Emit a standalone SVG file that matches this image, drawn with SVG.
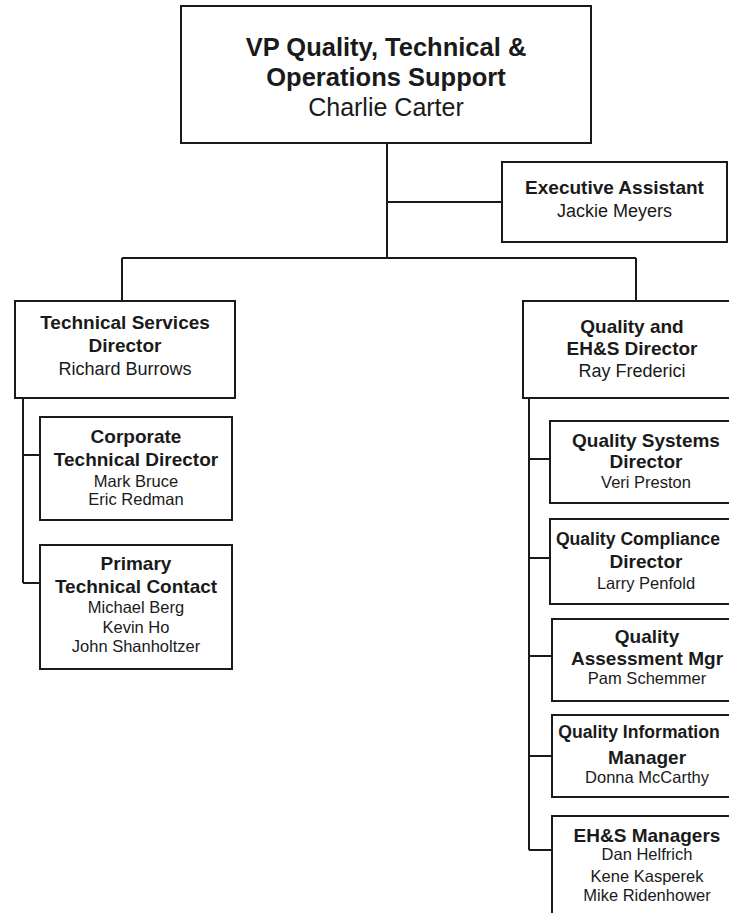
<svg xmlns="http://www.w3.org/2000/svg" width="729" height="913" viewBox="0 0 729 913">
  <style>
    .box { fill: #ffffff; stroke: #1a1a1a; stroke-width: 2; }
    .wire { fill: none; stroke: #1a1a1a; stroke-width: 2; }
    text { font-family: "Liberation Sans", Arial, sans-serif; fill: #1a1a1a; text-anchor: middle; }
    .t1 { font-size: 25.5px; font-weight: bold; }
    .n1 { font-size: 25px; }
    .t { font-size: 19px; font-weight: bold; }
    .tn { font-size: 17.6px; font-weight: bold; }
    .n { font-size: 18px; }
    .s { font-size: 16.5px; }
  </style>
  <rect width="729" height="913" fill="#ffffff"/>

  <!-- connectors -->
  <g id="connectors">
    <path class="wire" d="M387 143 V258 M387 202 H502 M122 258 H636 M122 258 V301 M636 258 V301"/>
    <path class="wire" d="M23 398 V583 M23 455 H40 M23 583 H40"/>
    <path class="wire" d="M529 398 V850 M529 459 H550 M529 558 H550 M529 656 H552 M529 756 H552 M529 850 H552"/>
  </g>

  <g id="vp">
    <rect class="box" x="181" y="6" width="410" height="137"/>
    <text class="t1" x="386" y="56">VP Quality, Technical &amp;</text>
    <text class="t1" x="386" y="86">Operations Support</text>
    <text class="n1" x="386" y="116">Charlie Carter</text>
  </g>

  <g id="exec-assistant">
    <rect class="box" x="502" y="162" width="225" height="80"/>
    <text class="t" x="614.5" y="194">Executive Assistant</text>
    <text class="n" x="614.5" y="217">Jackie Meyers</text>
  </g>

  <g id="tech-services">
    <rect class="box" x="15" y="301" width="220" height="97"/>
    <text class="t" x="125" y="329">Technical Services</text>
    <text class="t" x="125" y="352">Director</text>
    <text class="n" x="125" y="375">Richard Burrows</text>
  </g>

  <g id="corp-tech">
    <rect class="box" x="40" y="417" width="192" height="103"/>
    <text class="t" x="136" y="443">Corporate</text>
    <text class="t" x="136" y="466">Technical Director</text>
    <text class="s" x="136" y="487">Mark Bruce</text>
    <text class="s" x="136" y="505">Eric Redman</text>
  </g>

  <g id="primary-tech">
    <rect class="box" x="40" y="545" width="192" height="124"/>
    <text class="t" x="136" y="570">Primary</text>
    <text class="t" x="136" y="593">Technical Contact</text>
    <text class="s" x="136" y="613">Michael Berg</text>
    <text class="s" x="136" y="633">Kevin Ho</text>
    <text class="s" x="136" y="652">John Shanholtzer</text>
  </g>

  <g id="quality-ehs">
    <rect class="box" x="523" y="301" width="219" height="97"/>
    <text class="t" x="632" y="333">Quality and</text>
    <text class="t" x="632" y="355">EH&amp;S Director</text>
    <text class="n" x="632" y="377">Ray Frederici</text>
  </g>

  <g id="quality-systems">
    <rect class="box" x="550" y="421" width="193" height="82"/>
    <text class="t" x="646" y="447">Quality Systems</text>
    <text class="t" x="646" y="468">Director</text>
    <text class="s" x="646" y="488">Veri Preston</text>
  </g>

  <g id="quality-compliance">
    <rect class="box" x="550" y="519" width="193" height="85"/>
    <text class="tn" x="638" y="545">Quality Compliance</text>
    <text class="t" x="646" y="568">Director</text>
    <text class="s" x="646" y="589">Larry Penfold</text>
  </g>

  <g id="quality-assessment">
    <rect class="box" x="552" y="619" width="192" height="82"/>
    <text class="t" x="647" y="643">Quality</text>
    <text class="t" x="647" y="665">Assessment Mgr</text>
    <text class="s" x="647" y="684">Pam Schemmer</text>
  </g>

  <g id="quality-information">
    <rect class="box" x="552" y="715" width="192" height="82"/>
    <text class="tn" x="639" y="738">Quality Information</text>
    <text class="t" x="647" y="764">Manager</text>
    <text class="s" x="647" y="783">Donna McCarthy</text>
  </g>

  <g id="ehs-managers">
    <rect class="box" x="552" y="816" width="192" height="120"/>
    <text class="t" x="647" y="842">EH&amp;S Managers</text>
    <text class="s" x="647" y="860">Dan Helfrich</text>
    <text class="s" x="647" y="882">Kene Kasperek</text>
    <text class="s" x="647" y="901">Mike Ridenhower</text>
  </g>
</svg>
